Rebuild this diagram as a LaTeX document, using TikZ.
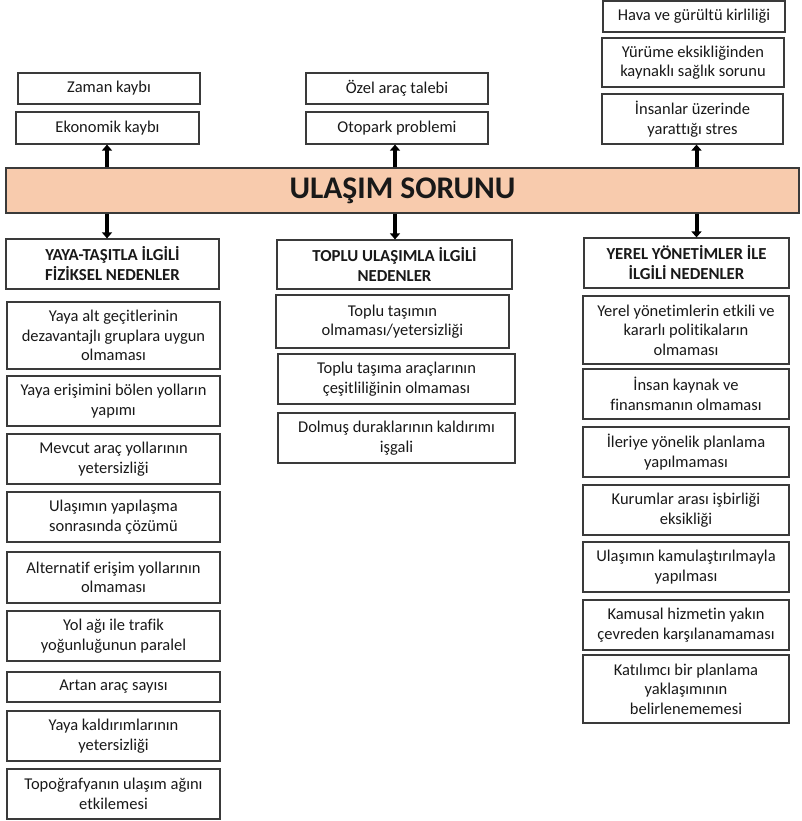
\documentclass[tikz,border=0pt]{standalone}
\usepackage{fontspec}
\setmainfont{Carlito}[Ligatures=NoCommon]
\usetikzlibrary{arrows.meta}
\definecolor{bord}{HTML}{3A3A3A}
\definecolor{peach}{HTML}{F8CBAD}
\begin{document}
\begin{tikzpicture}[x=1pt,y=-1pt,
  box/.style={draw=bord,line width=1.2pt,fill=white,align=center,inner sep=2pt,
    font=\fontsize{16.5}{19.5}\selectfont,text=black!90},
  hdr/.style={box,font=\bfseries\fontsize{16.8}{20}\selectfont},
  bigbar/.style={draw=bord,line width=1.2pt,fill=peach,font=\bfseries\fontsize{31.5}{36}\selectfont,text=black!90},
  arr/.style={line width=4pt,-{Triangle[width=10pt,length=6pt]}}]
\useasboundingbox (0,0) rectangle (801,821);
% top boxes
\node[box,minimum width=182pt,minimum height=31pt] (zaman) at (109,88.5) {Zaman kaybı};
\node[box,minimum width=183pt,minimum height=32pt] (ekon) at (107.5,128) {Ekonomik kaybı};
\node[box,minimum width=182pt,minimum height=31pt] (ozel) at (397,88.5) {Özel araç talebi};
\node[box,minimum width=182pt,minimum height=32pt] (otop) at (397,128) {Otopark problemi};
\node[box,minimum width=182pt,minimum height=31pt] (hava) at (694,16.5) {Hava ve gürültü kirliliği};
\node[box,minimum width=182pt,minimum height=49pt] (yurume) at (693,62.5) {Yürüme eksikliğinden\\kaynaklı sağlık sorunu};
\node[box,minimum width=181pt,minimum height=50pt] (insan) at (692.5,119) {İnsanlar üzerinde\\yarattığı stres};
% bar
\node[bigbar,minimum width=793pt,minimum height=45pt] (bar) at (402.5,190.5) {ULAŞIM SORUNU};
% headers
\node[hdr,minimum width=213pt,minimum height=50pt] (h1) at (112.5,264) {YAYA-TAŞITLA İLGİLİ\\FİZİKSEL NEDENLER};
\node[hdr,minimum width=235pt,minimum height=49pt] (h2) at (394.5,264.5) {TOPLU ULAŞIMLA İLGİLİ\\NEDENLER};
\node[hdr,minimum width=205pt,minimum height=50pt] (h3) at (686.5,263) {YEREL YÖNETİMLER İLE\\İLGİLİ NEDENLER};
% arrow positions
\coordinate (xl) at (107,0);
\coordinate (xm) at (395,0);
\coordinate (xr) at (696.5,0);
\draw[arr] (bar.north -| xl) -- (ekon.south -| xl);
\draw[arr] (bar.south -| xl) -- (h1.north -| xl);
\draw[arr] (bar.north -| xm) -- (otop.south -| xm);
\draw[arr] (bar.south -| xm) -- (h2.north -| xm);
\draw[arr] (bar.north -| xr) -- (insan.south -| xr);
\draw[arr] (bar.south -| xr) -- (h3.north -| xr);
% left column
\begin{scope}[every node/.append style={box,minimum width=213pt}]
\node[minimum height=67pt] (l1) at (113.5,335.5) {Yaya alt geçitlerinin\\dezavantajlı gruplara uygun\\olmaması};
\node[minimum height=50pt] (l2) at (113.5,401) {Yaya erişimini bölen yolların\\yapımı};
\node[minimum height=50pt] (l3) at (113.5,459) {Mevcut araç yollarının\\yetersizliği};
\node[minimum height=50pt] (l4) at (113.5,517) {Ulaşımın yapılaşma\\sonrasında çözümü};
\node[minimum height=51pt] (l5) at (113.5,577.5) {Alternatif erişim yollarının\\olmaması};
\node[minimum height=50pt] (l6) at (113.5,636) {Yol ağı ile trafik\\yoğunluğunun paralel};
\node[minimum height=30pt] (l7) at (113.5,687) {Artan araç sayısı};
\node[minimum height=50pt] (l8) at (113.5,736) {Yaya kaldırımlarının\\yetersizliği};
\node[minimum height=50pt] (l9) at (113.5,794) {Topoğrafyanın ulaşım ağını\\etkilemesi};
\end{scope}
% middle column
\node[box,minimum width=233pt,minimum height=53pt] (m1) at (392.5,321.5) {Toplu taşımın\\olmaması/yetersizliği};
\node[box,minimum width=237pt,minimum height=50pt] (m2) at (396.5,379) {Toplu taşıma araçlarının\\çeşitliliğinin olmaması};
\node[box,minimum width=237pt,minimum height=50pt] (m3) at (396.5,438) {Dolmuş duraklarının kaldırımı\\işgali};
% right column
\begin{scope}[every node/.append style={box,minimum width=206pt}]
\node[minimum height=68pt] (r1) at (686,330) {Yerel yönetimlerin etkili ve\\kararlı politikaların\\olmaması};
\node[minimum height=50pt] (r2) at (686,394) {İnsan kaynak ve\\finansmanın olmaması};
\node[minimum height=50pt] (r3) at (686,452) {İleriye yönelik planlama\\yapılmaması};
\node[minimum height=50pt] (r4) at (686,510) {Kurumlar arası işbirliği\\eksikliği};
\node[minimum height=50pt] (r5) at (686,567) {Ulaşımın kamulaştırılmayla\\yapılması};
\node[minimum height=50pt] (r6) at (686,625) {Kamusal hizmetin yakın\\çevreden karşılanamaması};
\node[minimum height=68pt] (r7) at (686,689) {Katılımcı bir planlama\\yaklaşımının\\belirlenememesi};
\end{scope}
\end{tikzpicture}
\end{document}
